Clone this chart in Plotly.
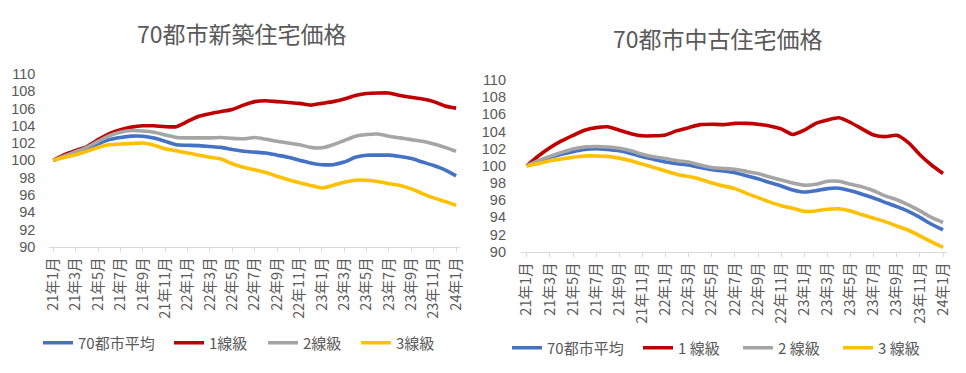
import plotly.graph_objects as go

months = [
    "21年1月", "21年2月", "21年3月", "21年4月", "21年5月", "21年6月", "21年7月", "21年8月",
    "21年9月", "21年10月", "21年11月", "21年12月",
    "22年1月", "22年2月", "22年3月", "22年4月", "22年5月", "22年6月", "22年7月", "22年8月",
    "22年9月", "22年10月", "22年11月", "22年12月",
    "23年1月", "23年2月", "23年3月", "23年4月", "23年5月", "23年6月", "23年7月", "23年8月",
    "23年9月", "23年10月", "23年11月", "23年12月",
    "24年1月",
]
tick_labels = [
    "21年1月", "21年3月", "21年5月", "21年7月", "21年9月", "21年11月",
    "22年1月", "22年3月", "22年5月", "22年7月", "22年9月", "22年11月",
    "23年1月", "23年3月", "23年5月", "23年7月", "23年9月", "23年11月",
    "24年1月",
]
y_ticks = [90, 92, 94, 96, 98, 100, 102, 104, 106, 108, 110]

# 新築住宅 (new homes)
new_avg = [100, 100.5, 100.9, 101.35, 101.9, 102.4, 102.65, 102.8, 102.8, 102.6, 102.2, 101.8,
           101.75, 101.7, 101.6, 101.5, 101.25, 101.05, 100.95, 100.85, 100.6, 100.35, 100.0, 99.7,
           99.5, 99.5, 99.8, 100.35, 100.6, 100.6, 100.6, 100.45, 100.2, 99.8, 99.4, 98.9, 98.2]
new_t1 = [100, 100.65, 101.15, 101.6, 102.4, 103.1, 103.55, 103.85, 104.0, 104.0, 103.9, 103.9,
          104.5, 105.1, 105.4, 105.65, 105.9, 106.4, 106.8, 106.9, 106.8, 106.7, 106.6, 106.4,
          106.6, 106.8, 107.1, 107.5, 107.75, 107.8, 107.8, 107.5, 107.3, 107.1, 106.8, 106.3, 106.05]
new_t2 = [100, 100.5, 101.0, 101.5, 102.2, 102.85, 103.25, 103.45, 103.4, 103.25, 102.95, 102.65,
          102.6, 102.6, 102.6, 102.65, 102.55, 102.5, 102.65, 102.45, 102.2, 102.0, 101.8, 101.5,
          101.45, 101.8, 102.3, 102.8, 103.0, 103.05, 102.8, 102.6, 102.4, 102.2, 101.9, 101.5, 101.05]
new_t3 = [100, 100.35, 100.65, 101.05, 101.5, 101.8, 101.9, 101.95, 102.0, 101.75, 101.35, 101.1,
          100.85, 100.6, 100.35, 100.15, 99.6, 99.2, 98.9, 98.6, 98.15, 97.75, 97.4, 97.1,
          96.8, 97.1, 97.45, 97.7, 97.7, 97.55, 97.3, 97.1, 96.7, 96.15, 95.65, 95.25, 94.8]

# 中古住宅 (used homes)
used_avg = [100, 100.55, 101.0, 101.35, 101.65, 101.9, 102.0, 101.9, 101.75, 101.45, 101.05, 100.75,
            100.45, 100.25, 100.1, 99.8, 99.55, 99.4, 99.2, 98.85, 98.5, 98.05, 97.65, 97.2,
            96.95, 97.1, 97.35, 97.4, 97.1, 96.7, 96.25, 95.75, 95.25, 94.7, 94.0, 93.2, 92.55]
used_t1 = [100, 101.15, 102.1, 102.9, 103.55, 104.15, 104.45, 104.55, 104.15, 103.75, 103.5, 103.5,
           103.6, 104.1, 104.45, 104.8, 104.85, 104.8, 104.95, 104.95, 104.85, 104.65, 104.3, 103.65,
           104.15, 104.95, 105.35, 105.6, 105.05, 104.3, 103.6, 103.4, 103.55, 102.7, 101.3, 100.1, 99.1]
used_t2 = [100, 100.6, 101.1, 101.55, 101.95, 102.2, 102.25, 102.2, 102.05, 101.75, 101.35, 101.05,
           100.85, 100.6, 100.45, 100.1, 99.8, 99.7, 99.6, 99.35, 99.1, 98.7, 98.35, 98.0,
           97.75, 97.85, 98.2, 98.2, 97.85, 97.55, 97.1, 96.5, 96.05, 95.45, 94.75, 94.0, 93.4]
used_t3 = [100, 100.25, 100.6, 100.8, 101.0, 101.15, 101.15, 101.1, 100.9, 100.6, 100.2, 99.8,
           99.4, 99.0, 98.75, 98.45, 98.0, 97.65, 97.35, 96.8, 96.3, 95.8, 95.35, 95.05,
           94.7, 94.75, 94.95, 95.0, 94.75, 94.3, 93.9, 93.5, 93.0, 92.5, 91.85, 91.15, 90.5]

left_names = ["70都市平均", "1線級", "2線級", "3線級"]
right_names = ["70都市平均", "1 線級", "2 線級", "3 線級"]
colors = ["#4472C4", "#C00000", "#A5A5A5", "#FFC000"]

FONT = "Noto Sans CJK JP, Noto Sans, sans-serif"
NUMFONT = "Liberation Sans, Arial, sans-serif"
TXT = "#595959"
W, H = 966, 373

# legend entry anchor positions (px): one legend per entry
left_leg_x = [38, 169, 263, 356]
right_leg_x = [507, 638, 738, 838]
left_leg_y = 343
right_leg_y = 348

fig = go.Figure()
legends = {}
idx = 1
for names, series, xax_id, yax_id, leg_xs, leg_y in [
    (left_names, [new_avg, new_t1, new_t2, new_t3], "x", "y", left_leg_x, left_leg_y),
    (right_names, [used_avg, used_t1, used_t2, used_t3], "x2", "y2", right_leg_x, right_leg_y),
]:
    for name, vals, c, lx in zip(names, series, colors, leg_xs):
        leg_id = "legend" if idx == 1 else f"legend{idx}"
        fig.add_trace(go.Scatter(x=months, y=vals, name=name, mode="lines",
                                 line=dict(color=c, width=3.6, shape="spline", smoothing=0.6),
                                 xaxis=xax_id, yaxis=yax_id, legend=leg_id))
        legends[leg_id] = dict(orientation="h", x=lx / W, xanchor="left",
                               y=1 - leg_y / H, yanchor="middle",
                               font=dict(size=15, color=TXT, family=FONT),
                               itemwidth=30, bgcolor="rgba(0,0,0,0)")
        idx += 1


def xax(d0, d1, r0, r1, anchor):
    return dict(domain=[d0 / W, d1 / W], type="category", range=[r0, r1],
                tickmode="array", tickvals=tick_labels, ticktext=tick_labels,
                tickangle=-90, tickfont=dict(size=14.5, color=TXT, family=FONT),
                showline=True, linecolor="#D9D9D9", linewidth=1,
                ticks="outside", ticklen=4, tickcolor="#D9D9D9",
                showgrid=False, zeroline=False, fixedrange=True,
                automargin=False, anchor=anchor)


def yax(top, bottom, anchor, standoff):
    return dict(domain=[1 - bottom / H, 1 - top / H], range=[90, 110],
                tickmode="array", tickvals=y_ticks,
                tickfont=dict(size=14.5, color=TXT, family=NUMFONT),
                showgrid=False, zeroline=False, showline=False, ticks="",
                anchor=anchor, fixedrange=True, automargin=False,
                ticklabelstandoff=standoff)


fig.update_layout(
    template="none",
    width=W, height=H,
    margin=dict(l=0, r=0, t=0, b=0, autoexpand=False),
    paper_bgcolor="white", plot_bgcolor="white",
    font=dict(family=FONT, color=TXT),
    xaxis=xax(49.4, 460, -0.35, 36.35, "y"),
    yaxis=yax(74, 246.7, "x", 13),
    xaxis2=xax(521, 946.5, -0.5, 36.3, "y2"),
    yaxis2=yax(80, 251.7, "x2", 14),
    annotations=[
        dict(text="70都市新築住宅価格", x=242 / W, y=1 - 33 / H, xref="paper", yref="paper",
             showarrow=False, xanchor="center", yanchor="middle",
             font=dict(size=23, color=TXT, family=FONT)),
        dict(text="70都市中古住宅価格", x=718 / W, y=1 - 38 / H, xref="paper", yref="paper",
             showarrow=False, xanchor="center", yanchor="middle",
             font=dict(size=23, color=TXT, family=FONT)),
    ],
    showlegend=True,
    **legends,
)

fig.write_html("out.html", config={"displayModeBar": False},
               post_script="document.body.style.margin='0';")
